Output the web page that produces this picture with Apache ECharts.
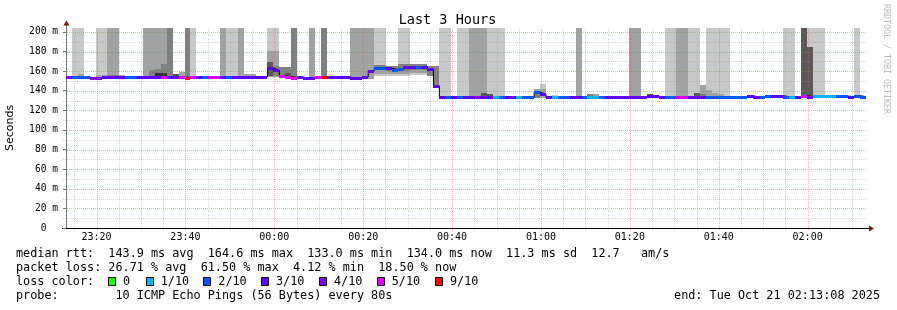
<!DOCTYPE html>
<html><head><meta charset="utf-8">
<script src="https://cdn.jsdelivr.net/npm/echarts@6/dist/echarts.min.js"></script>
<style>html,body{margin:0;padding:0;background:#fff}#c{width:897px;height:310px}</style>
</head><body><div id="c"></div>
<script>
// ---- time frame (minutes after 23:00 on Oct 20) ----
const START_MIN = 13 + 8 / 60;   // 23:13:08
const STEP_MIN = 80 / 60;        // 80 s RRD step
const END_MIN = START_MIN + 180; // 02:13:08
const Y_MAX = 204;

// ---- median rtt per step (ms) ----
const median = [
  154,154,154,154,153,153,154,154,154,154,
  154,154,154,154,154,154,154,154,154,154,
  153.5,154,154,154,154,154,154,154,154,154,
  154,154,154,154,163,161,155,154.5,153.5,154,
  153,153,154,154,154,154,154,154,153,153,
  154,160,163,163,163,161.5,162,164.3,164.3,164,
  164.6,162,145,133.3,133.3,133.3,133.3,133.3,133.3,133.3,
  133.3,133.3,133.3,133.3,133.3,133.3,133.3,133.3,133.3,138.5,
  136.5,133.3,134,133.3,133.3,133.3,133.3,133.3,133.3,133.3,
  133.3,133.3,133.3,133.3,133.3,133.3,133.3,133.3,134.5,134.5,
  133.3,133.3,133.3,133.3,133.3,133.3,134,133.3,133.3,133.3,
  133.3,133.3,133.3,133.3,133.3,135,133.3,133.3,135,135,
  135,134,134,134,135,134,134.5,134.5,134.5,134.5,
  134.5,134.5,134,135,134
];
// ---- lost pings (of 10) per step ----
const loss = [
  4,2,2,2,4,4,3,3,3,3,
  2,2,3,3,3,3,5,3,3,5,
  9,5,3,2,5,5,3,2,3,3,
  3,3,3,3,3,3,5,5,5,3,
  3,3,5,9,3,3,3,3,3,3,
  3,3,2,2,3,2,2,3,3,2,
  3,3,3,3,2,3,2,3,3,4,
  3,3,1,2,3,3,1,2,2,2,
  3,3,1,2,2,3,3,2,1,1,
  2,3,3,3,3,3,3,3,3,3,
  3,2,2,5,5,3,3,3,2,2,
  2,2,2,2,2,3,3,2,2,3,
  3,2,1,3,5,3,1,1,1,1,
  2,2,3,2,2
];

// ---- smoke bands: step range [from,to), ping range [lo,hi] ms, depth (pings inside) ----
const smokeFrom  = [1,5,7,13,17,20,21,26,27,29,34,38,41,43,48,52,56,63,66,68,71,86,95,101,103,105,108,121,124,125,125,133,
                    2,5,7,9,14,15,15,16,16,18,19,30,34,34,35,36,37,51,52,52,52,54,54,54,56,56,58,58,58,61,62,
                    70,71,79,79,80,80,82,88,89,98,99,106,107,107,108,109,110];
const smokeTo    = [3,7,9,17,18,21,22,27,29,30,36,39,42,44,52,54,58,65,68,71,74,87,97,103,105,107,112,123,125,128,126,134,
                    3,7,9,10,15,16,16,17,17,19,20,32,36,35,36,38,38,52,54,54,54,56,56,56,58,58,61,61,61,62,63,
                    71,72,80,80,81,81,83,89,90,99,100,107,108,108,109,110,111];
const smokeLo    = [153,153,153,153,153,153,153,153,153,153,154,153,152,153,152,155,155,132.5,132.5,132.5,132.5,132.5,132.5,132.5,132.5,132.5,132.5,132.5,132.5,132.5,132.5,132.5,
                    153,153,153,153,153,153,153,153,153,153,153,153,154,155,155,154,154,154.5,155,157,161,155,157,160,157,160,156,158,161,155,145,
                    132.5,132.5,132.5,132.5,132.5,132.5,132.5,132.5,132.5,132.5,132.5,132.5,132.5,132.5,132.5,132.5,132.5];
const smokeHi    = [220,220,220,220,220,220,220,220,220,220,220,220,220,220,220,220,220,220,220,220,220,220,220,220,220,220,220,220,220,220,184.7,220,
                    157,156.5,156.5,156.5,161.5,162,158.5,167.4,158,157.5,159.5,157,181,169,165,164.5,158,160,166.5,166.5,166.5,165,165,165,167,167,167,167,167,165,165,
                    137.5,136.5,141.5,138,147,142,136,137,136.5,137,136,138,146,137,141,138,136.5];
const smokeDepth = [1,1,2,2,3,3,1,2,1,2,1,3,2,3,2,1,1,1,1,2,1,2,2,1,2,1,1,1,4,1,4,1,
                    2,2,3,2,3,3,5,3,5,4,2,2,2,4,3,3,4,1,1,2,3,1,2,3,2,3,1,2,3,3,3,
                    4,4,2,3,1,2,1,3,2,4,3,4,2,3,2,2,2];

// ---- ticks ----
const xMajorTicks = [20,40,60,80,100,120,140,160,180];
const xMinorTicks = [15,25,30,35,45,50,55,65,70,75,85,90,95,105,110,115,125,130,135,145,150,155,165,170,175,185,190];
const yMajorTicks = [20,40,60,80,100,120,140,160,180,200];
const yMinorTicks = [10,30,50,70,90,110,130,150,170,190];

// ---- loss legend ----
const lossLevels = [0,1,2,3,4,5,9];
const lossLabels = ['0','1/10','2/10','3/10','4/10','5/10','9/10'];
const lossColors = ['#26ff00','#00b8ff','#0059ff','#5e00ff','#7e00ff','#dd00ff','#ff0000'];
const shadeColors = [null,'#c8c8c8','#a2a2a2','#808080','#585858','#333333'];

function lossColor(l){ let c = lossColors[0]; for (let k=0;k<lossLevels.length;k++){ if (l>=lossLevels[k]) c = lossColors[k]; } return c; }
function tOf(i){ return START_MIN + i*STEP_MIN; }

const MONO = '"DejaVu Sans Mono", monospace';

const smokeData = smokeFrom.map((f,i)=>[f, smokeTo[i], smokeLo[i], smokeHi[i], smokeDepth[i]])
  .map((d,i)=>({d,i})).sort((a,b)=>a.d[4]-b.d[4] || a.i-b.i).map(o=>o.d);
const gridData = [];
xMinorTicks.forEach(v=>gridData.push([0,v,0]));
yMinorTicks.forEach(v=>gridData.push([1,v,0]));
xMajorTicks.forEach(v=>gridData.push([0,v,1]));
yMajorTicks.forEach(v=>gridData.push([1,v,1]));
const medianSeg = median.map((m,i)=>[i,m,loss[i]]);
const medianLine = median.map((m,i)=>[tOf(i),m]).concat([[END_MIN, median[median.length-1]]]);

function hhmm(v){ const h=(23+Math.floor(v/60))%24, m=Math.round(v%60); return String(h).padStart(2,'0')+':'+String(m).padStart(2,'0'); }

const graphics = [];
function txt(x,y,text,opts){ opts=opts||{}; graphics.push({type:'text', x, y, rotation:opts.rot||0, silent:true,
  style:{text, font:(opts.size||11.8)+'px '+(opts.family||MONO), fill:opts.fill||'#000',
  align:opts.align||'left', textAlign:opts.align||'left', verticalAlign:'middle', textVerticalAlign:'middle'}}); }
txt(447.5, 20, 'Last 3 Hours', {size:13.5, align:'center'});
txt(886, 59, 'RRDTOOL / TOBI OETIKER', {size:8.3, align:'center', rot:-Math.PI/2, fill:'#bdbdbd'});
txt(16, 254.3, 'median rtt:  143.9 ms avg  164.6 ms max  133.0 ms min  134.0 ms now  11.3 ms sd  12.7   am/s');
txt(16, 268.3, 'packet loss: 26.71 % avg  61.50 % max  4.12 % min  18.50 % now');
txt(16, 282.3, 'loss color:');
const boxX = [108,145.7,203.3,261,319,376.7,435];
lossLabels.forEach((lab,k)=>{
  graphics.push({type:'rect', silent:true, shape:{x:Math.round(boxX[k])+0.5, y:277.5, width:7, height:8}, style:{fill:lossColors[k], stroke:'#000', lineWidth:1}});
  txt(boxX[k]+15, 282.3, lab);
});
txt(16, 296.3, 'probe:        10 ICMP Echo Pings (56 Bytes) every 80s');
txt(880, 296.3, 'end: Tue Oct 21 02:13:08 2025', {align:'right'});
// axis extensions + arrows
graphics.push({type:'line', silent:true, shape:{x1:66.5,y1:28,x2:66.5,y2:24}, style:{stroke:'#777',lineWidth:1}});
graphics.push({type:'polygon', silent:true, shape:{points:[[63.5,25.5],[69.5,25.5],[66.5,20.5]]}, style:{fill:'#7f1414'}});
graphics.push({type:'line', silent:true, shape:{x1:866,y1:228.5,x2:870,y2:228.5}, style:{stroke:'#000',lineWidth:1}});
graphics.push({type:'polygon', silent:true, shape:{points:[[869,225.5],[869,231.5],[874,228.5]]}, style:{fill:'#7f1414'}});
graphics.push({type:'line', silent:true, shape:{x1:62,y1:228.5,x2:67,y2:228.5}, style:{stroke:'#000',lineWidth:1}});

const chart = echarts.init(document.getElementById('c'), null, {renderer:'canvas'});
chart.setOption({
  animation:false,
  backgroundColor:'#fff',
  grid:{left:66, right:31, top:28, bottom:82, containLabel:false, outerBoundsMode:'none'},
  xAxis:{type:'value', min:START_MIN, max:END_MIN, splitLine:{show:false}, axisTick:{show:false},
    axisLine:{show:true, onZero:false, lineStyle:{color:'#000', width:1}},
    axisLabel:{customValues:xMajorTicks, formatter:hhmm, fontFamily:MONO, fontSize:10, color:'#000', margin:4}},
  yAxis:{type:'value', min:0, max:Y_MAX, interval:20, splitLine:{show:false},
    axisLine:{show:true, lineStyle:{color:'#777', width:1}},
    axisTick:{show:true, length:3, lineStyle:{color:'#777'}},
    axisLabel:{showMaxLabel:false, formatter:v=> v===0 ? '0  ' : v+' m', fontFamily:MONO, fontSize:9.6, color:'#000', margin:8},
    name:'Seconds', nameLocation:'middle', nameRotate:90, nameGap:50,
    nameTextStyle:{fontFamily:'"DejaVu Sans", sans-serif', fontSize:11, color:'#000'}},
  graphic:graphics,
  series:[
    {type:'custom', name:'smoke', z:1, silent:true, data:smokeData,
     renderItem:function(p, api){
       const f=api.value(0), t=api.value(1), lo=api.value(2), hi=Math.min(api.value(3), Y_MAX), d=api.value(4);
       const a=api.coord([tOf(f), hi]), b=api.coord([tOf(t), lo]);
       const x0=Math.round(a[0]), x1=Math.round(b[0]), y0=Math.round(a[1]), y1=Math.round(b[1]);
       return {type:'rect', shape:{x:x0, y:y0, width:x1-x0, height:y1-y0}, style:{fill:shadeColors[d]}};
     }},
    {type:'custom', name:'grid', z:2, silent:true, data:gridData,
     renderItem:function(p, api){
       const kind=api.value(0), v=api.value(1), major=api.value(2);
       const style={stroke: major ? 'rgba(232,80,80,0.45)' : 'rgba(150,150,150,0.38)', lineWidth:1, lineDash:[1,1], fill:null};
       if (kind===0){
         const a=api.coord([v,0]), b=api.coord([v,Y_MAX]); const x=Math.round(a[0])+0.5;
         return {type:'line', shape:{x1:x, y1:a[1]+2, x2:x, y2:b[1]}, style};
       }
       const a=api.coord([START_MIN,v]), b=api.coord([END_MIN,v]); const y=Math.round(a[1])+0.5;
       return {type:'line', shape:{x1:a[0]-3, y1:y, x2:b[0], y2:y}, style};
     }},
    {type:'line', name:'median', z:3, step:'end', data:medianLine, showSymbol:false, silent:true,
     lineStyle:{color:'#000', width:1}},
    {type:'custom', name:'loss', z:4, silent:true, data:medianSeg,
     renderItem:function(p, api){
       const i=api.value(0), m=api.value(1), l=api.value(2);
       const a=api.coord([tOf(i), m]), b=api.coord([tOf(i+1), m]);
       const x0=Math.round(a[0]), x1=Math.round(b[0]), yc=Math.round(a[1]);
       return {type:'rect', shape:{x:x0, y:yc-1, width:x1-x0, height:3}, style:{fill:lossColor(l)}};
     }}
  ]
});
</script></body></html>
